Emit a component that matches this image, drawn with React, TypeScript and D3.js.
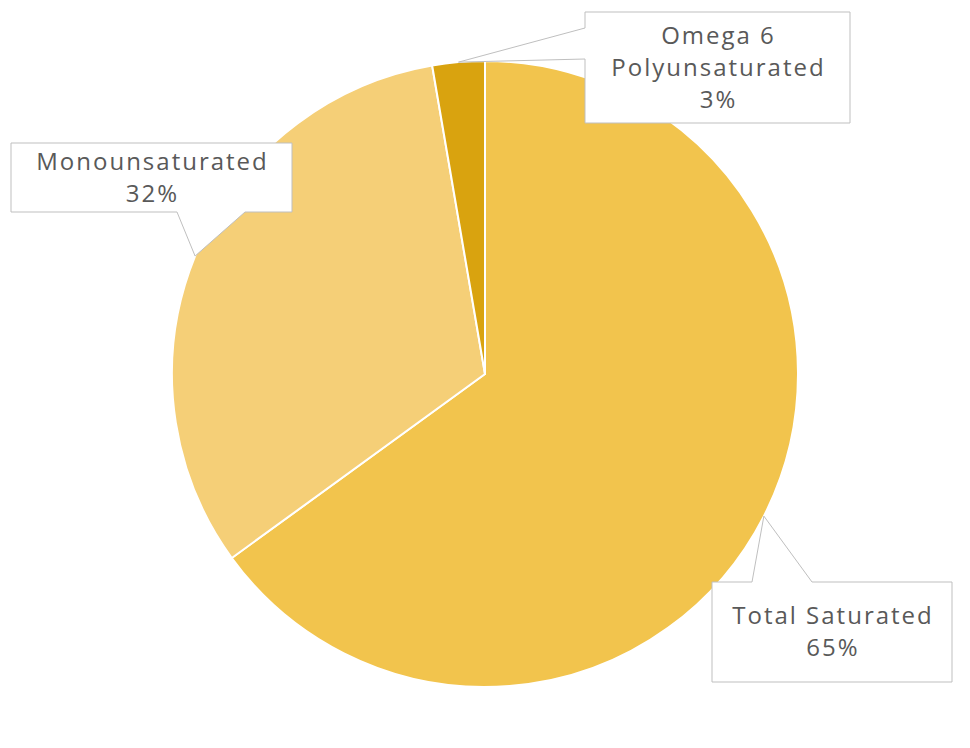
import React from "react";
import * as d3 from "d3";

const categories = ["Total Saturated", "Monounsaturated", "Omega 6\nPolyunsaturated"];
const values = [65.0, 32.3, 2.7];
const labelsPct = ["65%", "32%", "3%"];
const colors = ["#F2C44D", "#F5CF77", "#D9A30F"];

const W = 970;
const H = 748;
const cx = 485;
const cy = 374;
const R = 313;

// callout boxes: [x, y, w, h], pointer base side and base positions
const boxes = [
  { x: 712, y: 582, w: 240, h: 100, side: "top", b0: 752, b1: 812 },
  { x: 11, y: 143, w: 281, h: 69, side: "bottom", b0: 177, b1: 245 },
  { x: 585, y: 12, w: 265, h: 111, side: "left", b0: 28, b1: 59 },
];

const FONT = "'Open Sans', sans-serif";
const FS = 24;
const LH = 32;
const LS = 2.0;

export default function App() {
  const pie = d3.pie<number>().sort(null).value((d) => d);
  const arcs = pie(values);
  const arc = d3.arc<d3.PieArcDatum<number>>().innerRadius(0).outerRadius(R);

  return (
    <svg width={W} height={H} style={{ position: "absolute", left: 0, top: 0, background: "#fff" }}>
      <g transform={`translate(${cx},${cy})`}>
        {arcs.map((a, i) => (
          <path key={i} d={arc(a) || ""} fill={colors[i]} stroke="#fff" strokeWidth={2} strokeLinejoin="round" />
        ))}
      </g>
      {arcs.map((a, i) => {
        const mid = (a.startAngle + a.endAngle) / 2;
        const tx = cx + R * Math.sin(mid);
        const ty = cy - R * Math.cos(mid);
        const b = boxes[i];
        const { x, y, w, h } = b;
        let pts: [number, number][] = [];
        if (b.side === "top") {
          pts = [[x, y], [b.b0, y], [tx, ty], [b.b1, y], [x + w, y], [x + w, y + h], [x, y + h]];
        } else if (b.side === "bottom") {
          pts = [[x, y], [x + w, y], [x + w, y + h], [b.b1, y + h], [tx, ty], [b.b0, y + h], [x, y + h]];
        } else {
          pts = [[x, y], [x + w, y], [x + w, y + h], [x, y + h], [x, b.b1], [tx, ty], [x, b.b0]];
        }
        const lines = [...categories[i].split("\n"), labelsPct[i]];
        const n = lines.length;
        const midY = y + h / 2;
        return (
          <g key={"l" + i}>
            <path d={d3.line()(pts) + "Z"} fill="#fff" stroke="#BFBFBF" strokeWidth={1} />
            <text fontFamily={FONT} fontSize={FS} fill="#595959" textAnchor="middle" letterSpacing={LS}>
              {lines.map((t, j) => (
                <tspan key={j} x={x + w / 2 + LS / 2} y={midY + (j - (n - 1) / 2) * LH} dy="0.35em">
                  {t}
                </tspan>
              ))}
            </text>
          </g>
        );
      })}
    </svg>
  );
}
